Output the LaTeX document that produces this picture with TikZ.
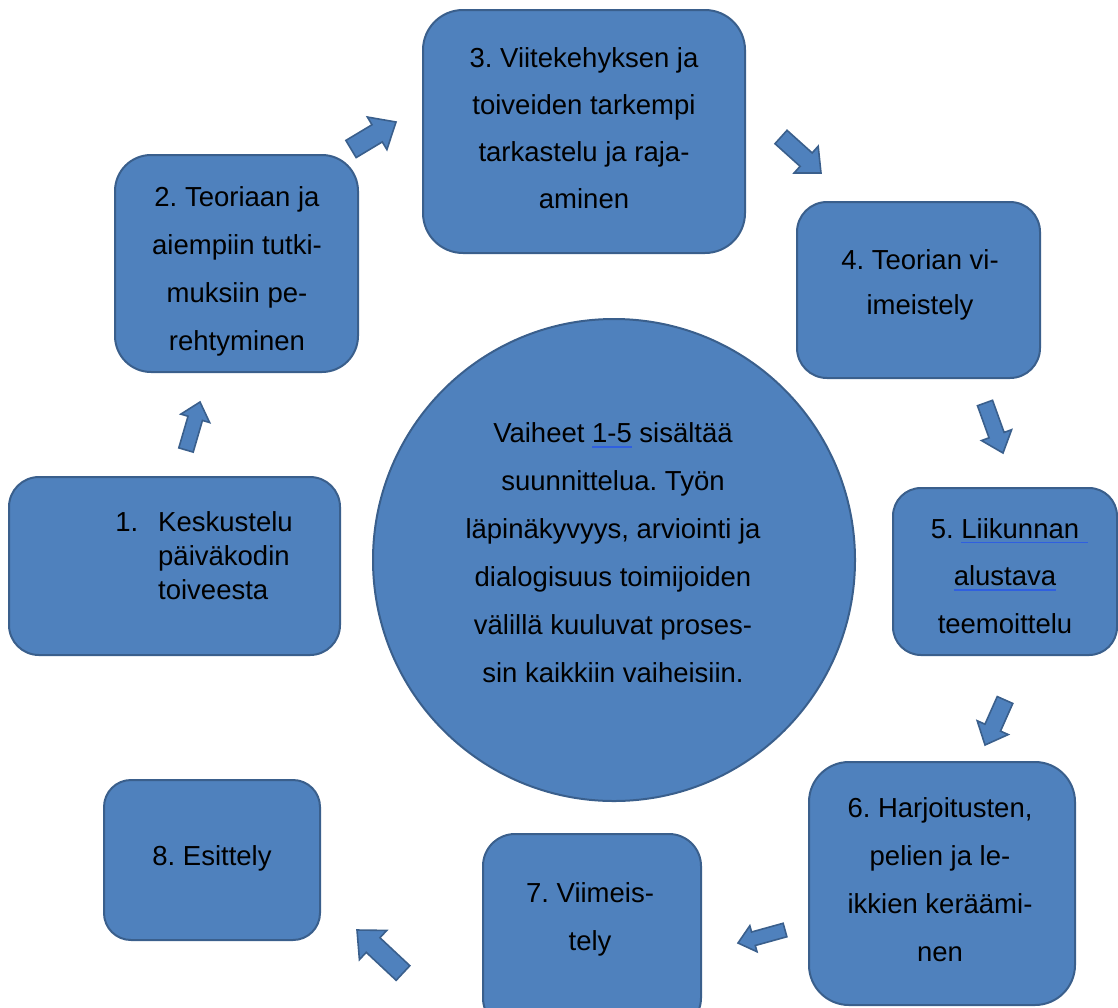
\documentclass[tikz,border=0pt]{standalone}
\usepackage{fontspec}
\setmainfont{Liberation Sans}
\usetikzlibrary{calc}
\definecolor{boxblue}{HTML}{4F81BD}
\definecolor{bord}{HTML}{3A5F8C}
\definecolor{ulblue}{HTML}{2F5FE0}
\newcommand\blueul[2][0pt]{\setbox0\hbox{#2}\leavevmode\rlap{\color{ulblue}\rule[-5pt]{\dimexpr\wd0+#1\relax}{1.6pt}}\box0\relax}
% block arrow: from, to, shaft half width, head half width, head length
\newcommand\blockarrow[5]{%
  \draw[barrow] let \p1=($(#2)-(#1)$), \n1={atan2(\y1,\x1)}, \n2={veclen(\x1,\y1)-#5} in
    ($(#1)+(\n1+90:#3)$) -- ($(#1)+(\n1:\n2)+(\n1+90:#3)$) -- ($(#1)+(\n1:\n2)+(\n1+90:#4)$)
    -- (#2) -- ($(#1)+(\n1:\n2)+(\n1-90:#4)$) -- ($(#1)+(\n1:\n2)+(\n1-90:#3)$)
    -- ($(#1)+(\n1-90:#3)$) -- cycle;}
\begin{document}
\begin{tikzpicture}[x=1pt,y=-1pt,
  box/.style={draw=bord, fill=boxblue, line width=2pt, inner sep=0pt},
  txt/.style={inner sep=0pt, align=center, text=black, font=\fontsize{27.5pt}{48pt}\selectfont\frenchspacing},
  barrow/.style={draw=bord, fill=boxblue, line width=1.6pt, line join=miter}]
\useasboundingbox (0,0) rectangle (1118,1007);
\clip (0,0) rectangle (1118,1007);
% boxes
\node[box, minimum width=331pt, minimum height=178pt, rounded corners=30pt] (b1) at (174.5,566) {};
\node[box, minimum width=243pt, minimum height=217pt, rounded corners=36pt] (b2) at (236.5,263.5) {};
\node[box, minimum width=322pt, minimum height=243pt, rounded corners=40pt] (b3) at (584,131.5) {};
\node[box, minimum width=243pt, minimum height=176pt, rounded corners=30pt] (b4) at (918.5,290) {};
\node[box, minimum width=224pt, minimum height=167pt, rounded corners=28pt] (b5) at (1005,571.5) {};
\node[box, minimum width=266pt, minimum height=243pt, rounded corners=40pt] (b6) at (942,883.5) {};
\node[box, minimum width=218pt, minimum height=196pt, rounded corners=32pt] (b7) at (592,932) {};
\node[box, minimum width=216pt, minimum height=160pt, rounded corners=27pt] (b8) at (212,860) {};
\node[box, circle, minimum size=482pt] (c) at (614,560) {};
% arrow end points
\coordinate (a12s) at (186,450); \coordinate (a12e) at (200,402);
\coordinate (a23s) at (351,149); \coordinate (a23e) at (396,122);
\coordinate (a34s) at (781,137); \coordinate (a34e) at (821,173);
\coordinate (a45s) at (985,403); \coordinate (a45e) at (1003,453);
\coordinate (a56s) at (1005,700); \coordinate (a56e) at (985,745);
\coordinate (a67s) at (785,930); \coordinate (a67e) at (738,943);
\coordinate (a78s) at (403,973); \coordinate (a78e) at (357,930);
\blockarrow{a12s}{a12e}{7.5pt}{15pt}{17pt}
\blockarrow{a23s}{a23e}{10pt}{19pt}{22pt}
\blockarrow{a34s}{a34e}{9pt}{18pt}{20pt}
\blockarrow{a45s}{a45e}{8pt}{16pt}{19pt}
\blockarrow{a56s}{a56e}{8.5pt}{17pt}{19pt}
\blockarrow{a67s}{a67e}{7pt}{13.5pt}{16pt}
\blockarrow{a78s}{a78e}{10pt}{20pt}{22pt}
% texts
\node[txt, align=left, anchor=west, font=\fontsize{27.5pt}{34pt}\selectfont\frenchspacing] (t1) at (158,556)
  {\llap{1.\hspace{20pt}}Keskustelu\\päiväkodin\\toiveesta};
\node[txt] (t2) at (237,271) {2. Teoriaan ja\\aiempiin tutki-\\muksiin pe-\\rehtyminen};
\node[txt, font=\fontsize{27.5pt}{47pt}\selectfont\frenchspacing] (t3) at (584,128)
  {3. Viitekehyksen ja\\toiveiden tarkempi\\tarkastelu ja raja-\\aminen};
\node[txt, font=\fontsize{27.5pt}{45pt}\selectfont\frenchspacing] (t4) at (920,285) {4. Teorian vi-\\imeistely};
\node[txt, font=\fontsize{27.5pt}{47.5pt}\selectfont\frenchspacing] (t5) at (1005,576)
  {5. \blueul[9pt]{Liikunnan}\\\blueul{alustava}\\teemoittelu};
\node[txt] (t6) at (940,880) {6. Harjoitusten,\\pelien ja le-\\ikkien keräämi-\\nen};
\node[txt] (t7) at (590,919) {7. Viimeis-\\tely};
\node[txt] (t8) at (212,858) {8. Esittely};
\node[txt] (t0) at (613,553) {Vaiheet \blueul{1-5} sisältää\\suunnittelua. Työn\\läpinäkyvyys, arviointi ja\\dialogisuus toimijoiden\\välillä kuuluvat proses-\\sin kaikkiin vaiheisiin.};
\end{tikzpicture}
\end{document}
